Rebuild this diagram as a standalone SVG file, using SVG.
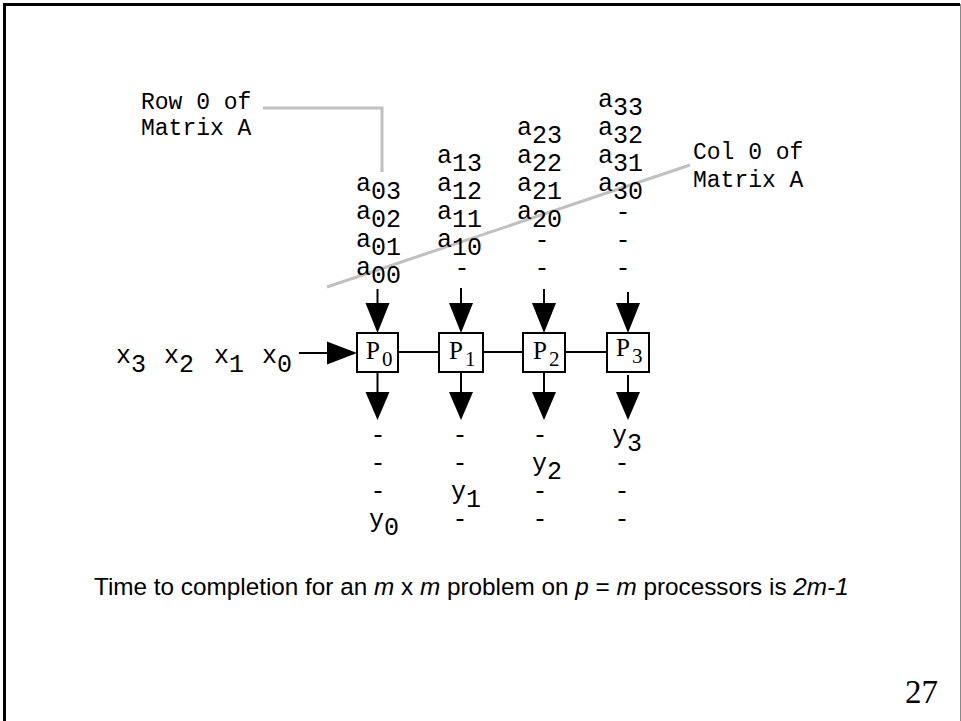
<svg xmlns="http://www.w3.org/2000/svg" width="961" height="721" viewBox="0 0 961 721">
<style>
.m{font-family:"Liberation Mono","Courier New",monospace;font-size:25px;fill:#000}
.lab{font-family:"Liberation Mono","Courier New",monospace;font-size:23px;fill:#000}
.d{font-family:"Liberation Mono","Courier New",monospace;font-size:25px;fill:#000;text-anchor:middle}
.ps{font-family:"Liberation Serif","Times New Roman",serif;fill:#000}
.box{fill:#fff;stroke:#000;stroke-width:2}
.ln{stroke:#000;stroke-width:2;fill:none}
.gr{stroke:#c0c0c0;stroke-width:3;fill:none}
.ah{fill:#000}
.cap{font-family:"Liberation Sans",Arial,sans-serif;font-size:24.3px;fill:#000}
</style>
<rect width="961" height="721" fill="#fff"/>
<path d="M4.5,721 V4.5 H960" fill="none" stroke="#000" stroke-width="3"/>
<line x1="960.5" y1="4" x2="960.5" y2="721" stroke="#888" stroke-width="1"/>

<g id="leaders">
<path class="gr" d="M263,108 H382 V172"/>
<line class="gr" x1="327" y1="287" x2="690" y2="165"/>
</g>

<g id="label-row0">
<text class="lab" x="141" y="109">Row 0 of</text>
<text class="lab" x="141" y="135">Matrix A</text>
</g>
<g id="label-col0">
<text class="lab" x="693" y="159">Col 0 of</text>
<text class="lab" x="693" y="187">Matrix A</text>
</g>

<g id="col0-input">
<text class="m" x="356" y="191">a</text><text class="m" x="371" y="199">03</text>
<text class="m" x="356" y="219">a</text><text class="m" x="371" y="227">02</text>
<text class="m" x="356" y="247">a</text><text class="m" x="371" y="255">01</text>
<text class="m" x="356" y="275">a</text><text class="m" x="371" y="283">00</text>
</g>
<g id="col1-input">
<text class="m" x="437" y="163">a</text><text class="m" x="452" y="171">13</text>
<text class="m" x="437" y="191">a</text><text class="m" x="452" y="199">12</text>
<text class="m" x="437" y="219">a</text><text class="m" x="452" y="227">11</text>
<text class="m" x="437" y="247">a</text><text class="m" x="452" y="255">10</text>
<text class="d" x="462" y="276">-</text>
</g>
<g id="col2-input">
<text class="m" x="517" y="135">a</text><text class="m" x="532" y="143">23</text>
<text class="m" x="517" y="163">a</text><text class="m" x="532" y="171">22</text>
<text class="m" x="517" y="191">a</text><text class="m" x="532" y="199">21</text>
<text class="m" x="517" y="219">a</text><text class="m" x="532" y="227">20</text>
<text class="d" x="542" y="248">-</text>
<text class="d" x="542" y="276">-</text>
</g>
<g id="col3-input">
<text class="m" x="598" y="107">a</text><text class="m" x="613" y="115">33</text>
<text class="m" x="598" y="135">a</text><text class="m" x="613" y="143">32</text>
<text class="m" x="598" y="163">a</text><text class="m" x="613" y="171">31</text>
<text class="m" x="598" y="191">a</text><text class="m" x="613" y="199">30</text>
<text class="d" x="623" y="220">-</text>
<text class="d" x="623" y="248">-</text>
<text class="d" x="623" y="276">-</text>
</g>

<g id="x-input">
<text class="m" x="116" y="363">x</text><text class="m" x="131" y="372">3</text>
<text class="m" x="164" y="363">x</text><text class="m" x="179" y="372">2</text>
<text class="m" x="214" y="363">x</text><text class="m" x="229" y="372">1</text>
<text class="m" x="262" y="363">x</text><text class="m" x="277" y="372">0</text>
</g>

<g id="connectors">
<line class="ln" x1="299" y1="353" x2="330" y2="353"/>
<polygon class="ah" points="327,341.5 357,353 327,364.5"/>
<line class="ln" x1="398" y1="352" x2="439" y2="352"/>
<line class="ln" x1="483" y1="352" x2="523" y2="352"/>
<line class="ln" x1="565" y1="352" x2="607" y2="352"/>
<line class="ln" x1="377.5" y1="289" x2="377.5" y2="306"/>
<polygon class="ah" points="365.5,303 389.5,303 377.5,333"/>
<line class="ln" x1="461" y1="288" x2="461" y2="306"/>
<polygon class="ah" points="449,303 473,303 461,333"/>
<line class="ln" x1="544" y1="289" x2="544" y2="306"/>
<polygon class="ah" points="532,303 556,303 544,333"/>
<line class="ln" x1="628" y1="292" x2="628" y2="306"/>
<polygon class="ah" points="616,303 640,303 628,333"/>
<line class="ln" x1="377.5" y1="372" x2="377.5" y2="395"/>
<polygon class="ah" points="365.5,392 389.5,392 377.5,420"/>
<line class="ln" x1="461" y1="372" x2="461" y2="395"/>
<polygon class="ah" points="449,392 473,392 461,420"/>
<line class="ln" x1="544" y1="372" x2="544" y2="395"/>
<polygon class="ah" points="532,392 556,392 544,420"/>
<line class="ln" x1="628" y1="375" x2="628" y2="395"/>
<polygon class="ah" points="616,392 640,392 628,420"/>
</g>

<g id="P0">
<rect class="box" x="357" y="333" width="41" height="39"/>
<text class="ps" x="366" y="359" font-size="25">P</text><text class="ps" x="382" y="366" font-size="21">0</text>
</g>
<g id="P1">
<rect class="box" x="439" y="333" width="44" height="39"/>
<text class="ps" x="449" y="359" font-size="25">P</text><text class="ps" x="465" y="366" font-size="21">1</text>
</g>
<g id="P2">
<rect class="box" x="523" y="333" width="42" height="39"/>
<text class="ps" x="533" y="359" font-size="25">P</text><text class="ps" x="549" y="366" font-size="21">2</text>
</g>
<g id="P3">
<rect class="box" x="607" y="333" width="42" height="39"/>
<text class="ps" x="616" y="356" font-size="25">P</text><text class="ps" x="632" y="363" font-size="21">3</text>
</g>

<g id="col0-output">
<text class="d" x="378" y="443">-</text>
<text class="d" x="378" y="471">-</text>
<text class="d" x="378" y="499">-</text>
<text class="m" x="369" y="527">y</text><text class="m" x="384" y="535">0</text>
</g>
<g id="col1-output">
<text class="d" x="460" y="443">-</text>
<text class="d" x="460" y="471">-</text>
<text class="m" x="451" y="499">y</text><text class="m" x="466" y="507">1</text>
<text class="d" x="460" y="527">-</text>
</g>
<g id="col2-output">
<text class="d" x="540" y="443">-</text>
<text class="m" x="532" y="471">y</text><text class="m" x="547" y="479">2</text>
<text class="d" x="540" y="499">-</text>
<text class="d" x="540" y="527">-</text>
</g>
<g id="col3-output">
<text class="m" x="612" y="443">y</text><text class="m" x="627" y="451">3</text>
<text class="d" x="622" y="471">-</text>
<text class="d" x="622" y="499">-</text>
<text class="d" x="622" y="527">-</text>
</g>

<text class="cap" x="94" y="595">Time to completion for an <tspan font-style="italic">m</tspan> x <tspan font-style="italic">m</tspan> problem on <tspan font-style="italic">p</tspan> = <tspan font-style="italic">m</tspan> processors is <tspan font-style="italic">2m-1</tspan></text>
<text x="938" y="703" font-family="'Liberation Serif','Times New Roman',serif" font-size="33" text-anchor="end">27</text>
</svg>
